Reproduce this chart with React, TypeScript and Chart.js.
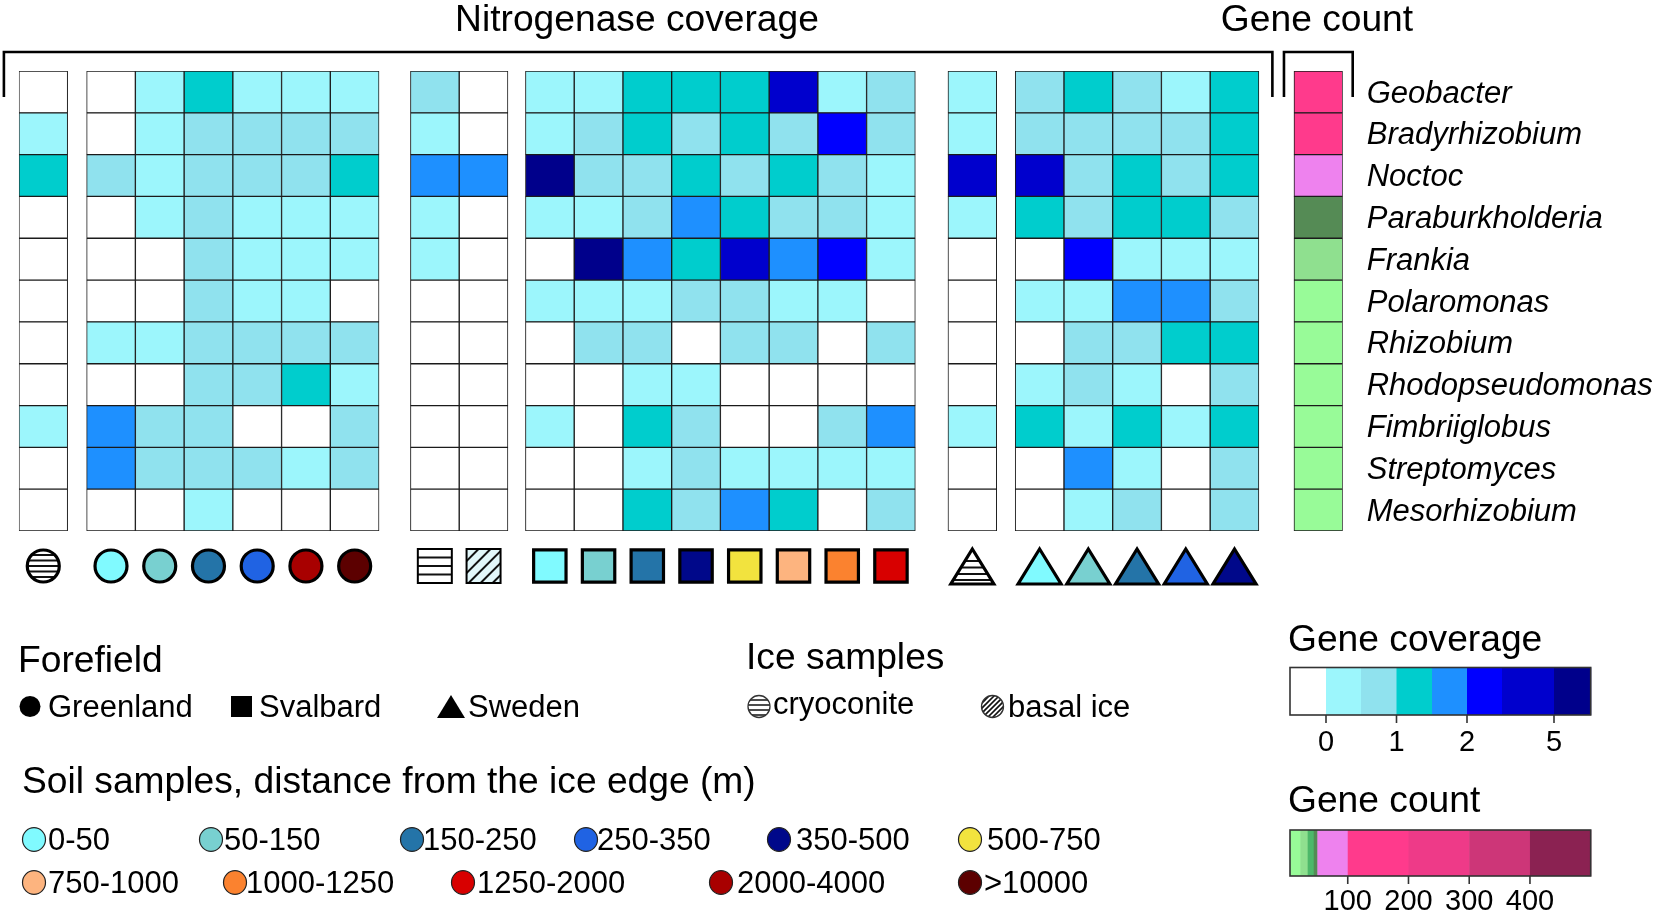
import React, { useEffect, useRef } from 'react';
import { Chart, registerables } from 'chart.js';

Chart.register(...registerables);

const FONT = '"Liberation Sans", Arial, Helvetica, sans-serif';

// ---------- categories ----------
const genera = [
  'Geobacter', 'Bradyrhizobium', 'Noctoc', 'Paraburkholderia', 'Frankia', 'Polaromonas',
  'Rhizobium', 'Rhodopseudomonas', 'Fimbriiglobus', 'Streptomyces', 'Mesorhizobium',
];

// samples (columns), in drawing order
const sampleRegion = [
  'Greenland', 'Greenland', 'Greenland', 'Greenland', 'Greenland', 'Greenland', 'Greenland',
  'Svalbard', 'Svalbard', 'Svalbard', 'Svalbard', 'Svalbard', 'Svalbard', 'Svalbard', 'Svalbard', 'Svalbard', 'Svalbard',
  'Sweden', 'Sweden', 'Sweden', 'Sweden', 'Sweden', 'Sweden',
];
const sampleType = [
  'cryoconite', '0-50', '50-150', '150-250', '250-350', '2000-4000', '>10000',
  'cryoconite', 'basal ice', '0-50', '50-150', '150-250', '350-500', '500-750', '750-1000', '1000-1250', '1250-2000',
  'cryoconite', '0-50', '50-150', '150-250', '250-350', '350-500',
];
const groupSizes = [1, 6, 2, 8, 1, 5];

// ---------- nitrogenase coverage per genus (23 samples) ----------
const geobacterCov =        [0,   0, 0.3, 1.3, 0.3, 0.3, 0.3,  0.8, 0,  0.3, 0.3, 1.3, 1.3, 1.3, 4.2, 0.3, 0.8,  0.3,  0.8, 1.3, 0.8, 0.3, 1.3];
const bradyrhizobiumCov =   [0.3, 0, 0.3, 0.8, 0.8, 0.8, 0.8,  0.3, 0,  0.3, 0.8, 1.3, 0.8, 1.3, 0.8, 2.8, 0.8,  0.3,  0.8, 0.8, 0.8, 0.8, 1.3];
const noctocCov =           [1.3, 0.8, 0.3, 0.8, 0.8, 0.8, 1.3, 1.8, 1.8, 6, 0.8, 0.8, 1.3, 0.8, 1.3, 0.8, 0.3,  4.2,  4.2, 0.8, 1.3, 0.8, 1.3];
const paraburkholderiaCov = [0,   0, 0.3, 0.8, 0.3, 0.3, 0.3,  0.3, 0,  0.3, 0.3, 0.8, 1.8, 1.3, 0.8, 0.8, 0.3,  0.3,  1.3, 0.8, 1.3, 1.3, 0.8];
const frankiaCov =          [0,   0, 0, 0.8, 0.3, 0.3, 0.3,    0.3, 0,  0, 6, 1.8, 1.3, 4.2, 1.8, 2.8, 0.3,      0,    0, 2.8, 0.3, 0.3, 0.3];
const polaromonasCov =      [0,   0, 0, 0.8, 0.3, 0.3, 0,      0, 0,    0.3, 0.3, 0.3, 0.8, 0.8, 0.3, 0.3, 0,    0,    0.3, 0.3, 1.8, 1.8, 0.8];
const rhizobiumCov =        [0,   0.3, 0.3, 0.8, 0.8, 0.8, 0.8, 0, 0,   0, 0.8, 0.8, 0, 0.8, 0.8, 0, 0.8,        0,    0, 0.8, 0.8, 1.3, 1.3];
const rhodopseudomonasCov = [0,   0, 0, 0.8, 0.8, 1.3, 0.3,    0, 0,    0, 0, 0.3, 0.3, 0, 0, 0, 0,              0,    0.3, 0.8, 0.3, 0, 0.8];
const fimbriiglobusCov =    [0.3, 1.8, 0.8, 0.8, 0, 0, 0.8,    0, 0,    0.3, 0, 1.3, 0.8, 0, 0, 0.8, 1.8,        0.3,  1.3, 0.3, 1.3, 0.3, 1.3];
const streptomycesCov =     [0,   1.8, 0.8, 0.8, 0.8, 0.3, 0.8, 0, 0,   0, 0, 0.3, 0.8, 0.3, 0.3, 0.3, 0.3,      0,    0, 1.8, 0.3, 0, 0.8];
const mesorhizobiumCov =    [0,   0, 0, 0.3, 0, 0, 0,          0, 0,    0, 0, 1.3, 0.8, 1.8, 1.3, 0, 0.8,        0,    0, 0.3, 0.8, 0, 0.8];

const coverageRows = [
  geobacterCov, bradyrhizobiumCov, noctocCov, paraburkholderiaCov, frankiaCov, polaromonasCov,
  rhizobiumCov, rhodopseudomonasCov, fimbriiglobusCov, streptomycesCov, mesorhizobiumCov,
];

// gene count per genus
const geneCount = [160, 130, 75, 47, 28, 12, 12, 12, 12, 12, 12];

// ---------- colour scales ----------
const covBreaks = [0, 0.5, 1, 1.5, 2, 3.5, 5];
const covColors = ['#FFFFFF', '#9CF6FC', '#90E2EE', '#00CDCD', '#1E90FF', '#0000FF', '#0000CD', '#00008B'];
const covTickValues = [0, 1, 2, 5];
const covTickLabels = ['0', '1', '2', '5'];

const gcBreaks = [0, 22, 34, 44, 50, 100, 200, 300, 400, 500];
const gcColors = ['#98FB98', '#8FE08F', '#4DB86A', '#558B55', '#EE82EE', '#FF3A8C', '#EE3A88', '#CD3678', '#8B2252'];
const gcTickValues = [100, 200, 300, 400];

const distanceClasses = ['0-50', '50-150', '150-250', '250-350', '350-500', '500-750', '750-1000', '1000-1250', '1250-2000', '2000-4000', '>10000'];
const distanceColors = ['#80FAFF', '#78D0D0', '#2474A8', '#2063E3', '#00088A', '#F2E33E', '#FDB47F', '#FB822F', '#D80000', '#A80000', '#5C0000'];

function coverageColor(v: number) {
  if (!(v > 0)) return covColors[0];
  let idx = 0;
  for (const b of covBreaks) if (v > b) idx++;
  return covColors[Math.min(idx, covColors.length - 1)];
}
function geneCountColor(v: number) {
  let idx = gcBreaks.findIndex((b) => v < b) - 1;
  if (idx < 0) idx = gcColors.length - 1;
  return gcColors[idx];
}

// ---------- layout (units = one cell width) ----------
const groupGaps = [0.39, 0.645, 0.36, 0.67, 0.38];
const geneGap = 0.72;
const W = 1655;
const H = 915;
const AREA_LEFT = 18.9;
const AREA_RIGHT = 1342.7;
const AREA_TOP = 71;
const AREA_BOTTOM = 531;
const TITLE = 37.2;
const ITEM = 31;

function columnStarts() {
  const starts: number[] = [];
  let x = 0;
  groupSizes.forEach((n, g) => {
    for (let i = 0; i < n; i++) starts.push(x + i);
    x += n + (g < groupGaps.length ? groupGaps[g] : 0);
  });
  return { starts, geneStart: starts[starts.length - 1] + 1 + geneGap };
}
const { starts: colStarts, geneStart } = columnStarts();
const totalUnits = geneStart + 1;

function text(ctx: CanvasRenderingContext2D, s: string, x: number, y: number, size: number, align: CanvasTextAlign = 'left', style = '') {
  ctx.font = `${style} ${size}px ${FONT}`;
  ctx.textAlign = align;
  ctx.textBaseline = 'alphabetic';
  ctx.fillStyle = '#000';
  ctx.fillText(s, x, y);
}

function stripesIn(ctx: CanvasRenderingContext2D, path: Path2D, x0: number, x1: number, ys: number[], lw: number) {
  ctx.save();
  ctx.clip(path);
  ctx.strokeStyle = '#111';
  ctx.lineWidth = lw;
  ys.forEach((y) => {
    ctx.beginPath();
    ctx.moveTo(x0, y);
    ctx.lineTo(x1, y);
    ctx.stroke();
  });
  ctx.restore();
}
function hatchIn(ctx: CanvasRenderingContext2D, path: Path2D, cx: number, cy: number, r: number, step: number, lw: number) {
  ctx.save();
  ctx.clip(path);
  ctx.strokeStyle = '#111';
  ctx.lineWidth = lw;
  for (let d = -2 * r; d <= 2 * r; d += step) {
    ctx.beginPath();
    ctx.moveTo(cx + d - r, cy + r);
    ctx.lineTo(cx + d + r, cy - r);
    ctx.stroke();
  }
  ctx.restore();
}

function drawSampleSymbol(ctx: CanvasRenderingContext2D, region: string, type: string, x: number, y: number) {
  const path = new Path2D();
  let lw = 3.2;
  if (region === 'Greenland') {
    path.arc(x, y, 16, 0, Math.PI * 2);
  } else if (region === 'Svalbard') {
    if (type === 'cryoconite' || type === 'basal ice') {
      path.rect(x - 17, y - 17, 34, 34);
      lw = 2;
    } else {
      path.rect(x - 16.2, y - 16.2, 32.4, 32.4);
    }
  } else {
    path.moveTo(x, y - 17);
    path.lineTo(x + 21.5, y + 18);
    path.lineTo(x - 21.5, y + 18);
    path.closePath();
  }
  ctx.save();
  ctx.lineJoin = 'miter';
  if (type === 'cryoconite') {
    ctx.fillStyle = '#fff';
    ctx.fill(path);
    const ys = region === 'Svalbard' ? [y - 8.5, y, y + 8.5] : region === 'Sweden' ? [y - 5, y + 1.5, y + 8, y + 14] : [y - 11, y - 5.5, y, y + 5.5, y + 11];
    stripesIn(ctx, path, x - 25, x + 25, ys, 2);
  } else if (type === 'basal ice') {
    ctx.fillStyle = '#E2F7FA';
    ctx.fill(path);
    hatchIn(ctx, path, x, y, 17, 12, 2);
  } else {
    ctx.fillStyle = distanceColors[distanceClasses.indexOf(type)];
    ctx.fill(path);
  }
  ctx.strokeStyle = '#000';
  ctx.lineWidth = lw;
  ctx.stroke(path);
  ctx.restore();
}

const soilLegendPos = [
  { cx: 34, tx: 48, y: 850 }, { cx: 211, tx: 224, y: 850 }, { cx: 412, tx: 423, y: 850 },
  { cx: 586, tx: 597, y: 850 }, { cx: 779, tx: 796, y: 850 }, { cx: 970, tx: 987, y: 850 },
  { cx: 34, tx: 48, y: 893 }, { cx: 235, tx: 246, y: 893 }, { cx: 463, tx: 477, y: 893 },
  { cx: 721, tx: 737, y: 893 }, { cx: 970, tx: 984, y: 893 },
];
const covLegendEdges = [1290, 1326, 1361, 1396.5, 1432, 1467, 1502, 1554, 1590.7];

const overlayPlugin = {
  id: 'overlay',
  afterDraw(chart: any) {
    const ctx: CanvasRenderingContext2D = chart.ctx;
    const xs = chart.scales.x;
    const area = chart.chartArea;
    ctx.save();

    // titles
    text(ctx, 'Nitrogenase coverage', 637, 31, TITLE, 'center');
    text(ctx, 'Gene count', 1317, 31, TITLE, 'center');

    // brackets
    const bTop = 52;
    const bBot = 97;
    ctx.strokeStyle = '#000';
    ctx.lineWidth = 2.6;
    ctx.lineCap = 'butt';
    const b1L = xs.getPixelForValue(0) - 15;
    const lastCol = colStarts[colStarts.length - 1] + 1;
    const b1R = xs.getPixelForValue(lastCol) + 13.5;
    ctx.beginPath();
    ctx.moveTo(b1L, bBot); ctx.lineTo(b1L, bTop); ctx.lineTo(b1R, bTop); ctx.lineTo(b1R, bBot);
    ctx.stroke();
    const b2L = xs.getPixelForValue(geneStart) - 10;
    const b2R = xs.getPixelForValue(geneStart + 1) + 10;
    ctx.beginPath();
    ctx.moveTo(b2L, bBot); ctx.lineTo(b2L, bTop); ctx.lineTo(b2R, bTop); ctx.lineTo(b2R, bBot);
    ctx.stroke();

    // sample symbols
    const sy = area.bottom + 35;
    colStarts.forEach((s, i) => {
      drawSampleSymbol(ctx, sampleRegion[i], sampleType[i], xs.getPixelForValue(s + 0.5), sy);
    });

    // Forefield legend
    text(ctx, 'Forefield', 18, 672, TITLE);
    ctx.fillStyle = '#000';
    ctx.beginPath(); ctx.arc(30, 706.5, 10.5, 0, Math.PI * 2); ctx.fill();
    text(ctx, 'Greenland', 48, 717, ITEM);
    ctx.fillStyle = '#000';
    ctx.fillRect(231, 696, 21, 21);
    text(ctx, 'Svalbard', 259, 717, ITEM);
    ctx.fillStyle = '#000';
    ctx.beginPath(); ctx.moveTo(451, 695); ctx.lineTo(465, 718); ctx.lineTo(437, 718); ctx.closePath(); ctx.fill();
    text(ctx, 'Sweden', 468, 717, ITEM);

    // Ice samples legend
    text(ctx, 'Ice samples', 746, 669, TITLE);
    const cryo = new Path2D(); cryo.arc(759, 706.5, 11, 0, Math.PI * 2);
    ctx.fillStyle = '#fff'; ctx.fill(cryo);
    stripesIn(ctx, cryo, 745, 773, [700, 705, 710, 715], 1.3);
    ctx.strokeStyle = '#333'; ctx.lineWidth = 1.3; ctx.stroke(cryo);
    text(ctx, 'cryoconite', 773, 714, ITEM);
    const basal = new Path2D(); basal.arc(992.5, 706.5, 11, 0, Math.PI * 2);
    ctx.fillStyle = '#fff'; ctx.fill(basal);
    hatchIn(ctx, basal, 992.5, 706.5, 12, 5, 1.6);
    ctx.strokeStyle = '#333'; ctx.lineWidth = 1.3; ctx.stroke(basal);
    text(ctx, 'basal ice', 1008, 717, ITEM);

    // Soil samples legend
    text(ctx, 'Soil samples, distance from the ice edge (m)', 22, 793, TITLE);
    distanceClasses.forEach((d, i) => {
      const p = soilLegendPos[i];
      ctx.beginPath();
      ctx.ellipse(p.cx, p.y - 10.5, 11.5, 11.8, 0, 0, Math.PI * 2);
      ctx.fillStyle = distanceColors[i];
      ctx.fill();
      ctx.strokeStyle = '#222';
      ctx.lineWidth = 1.2;
      ctx.stroke();
      text(ctx, d, p.tx, p.y, ITEM);
    });

    // Gene coverage colour bar
    text(ctx, 'Gene coverage', 1288, 651, TITLE);
    const cTop = 667.5, cBot = 715;
    covColors.forEach((c, i) => {
      ctx.fillStyle = c;
      ctx.fillRect(covLegendEdges[i], cTop, covLegendEdges[i + 1] - covLegendEdges[i] + 0.5, cBot - cTop);
    });
    ctx.strokeStyle = '#333'; ctx.lineWidth = 1.6;
    ctx.strokeRect(covLegendEdges[0], cTop, covLegendEdges[covLegendEdges.length - 1] - covLegendEdges[0], cBot - cTop);
    covTickValues.forEach((v, i) => {
      const edge = covLegendEdges[covBreaks.indexOf(v) + 1];
      ctx.beginPath(); ctx.moveTo(edge, cBot); ctx.lineTo(edge, cBot + 8); ctx.stroke();
      text(ctx, covTickLabels[i], edge, 751, 29, 'center');
    });

    // Gene count colour bar
    text(ctx, 'Gene count', 1288, 812, TITLE);
    const gL = 1287, gR = 1590.7;
    const gpx = (v: number) => gL + (v / gcBreaks[gcBreaks.length - 1]) * (gR - gL);
    const gTop = 830, gBot = 876;
    gcColors.forEach((c, i) => {
      const a = Math.max(1290, gpx(gcBreaks[i]));
      const b = gpx(gcBreaks[i + 1]);
      ctx.fillStyle = c;
      ctx.fillRect(a, gTop, b - a + 0.5, gBot - gTop);
    });
    ctx.strokeStyle = '#333'; ctx.lineWidth = 1.6;
    ctx.strokeRect(1290, gTop, gR - 1290, gBot - gTop);
    gcTickValues.forEach((v) => {
      const x = gpx(v);
      ctx.beginPath(); ctx.moveTo(x, gBot); ctx.lineTo(x, gBot + 8); ctx.stroke();
      text(ctx, String(v), x, 910, 29, 'center');
    });

    ctx.restore();
  },
};

export default function App() {
  const ref = useRef<HTMLCanvasElement | null>(null);
  useEffect(() => {
    if (!ref.current) return;
    const datasets: any[] = colStarts.map((s, c) => ({
      label: `${sampleRegion[c]} ${sampleType[c]}`,
      data: genera.map(() => [s, s + 1]),
      backgroundColor: coverageRows.map((row) => coverageColor(row[c])),
      borderColor: '#1b1b1b',
      borderWidth: 1,
      borderSkipped: false,
      grouped: false,
      barPercentage: 1,
      categoryPercentage: 1,
    }));
    datasets.push({
      label: 'Gene count',
      data: genera.map(() => [geneStart, geneStart + 1]),
      backgroundColor: geneCount.map((v) => geneCountColor(v)),
      borderColor: '#1b1b1b',
      borderWidth: 1,
      borderSkipped: false,
      grouped: false,
      barPercentage: 1,
      categoryPercentage: 1,
    });
    const chart = new Chart(ref.current, {
      type: 'bar',
      data: { labels: genera, datasets },
      options: {
        indexAxis: 'y',
        responsive: false,
        animation: false,
        events: [],
        layout: { padding: { left: AREA_LEFT, top: AREA_TOP, bottom: H - AREA_BOTTOM, right: 0 } },
        scales: {
          x: { type: 'linear', min: 0, max: totalUnits, display: false },
          y: {
            type: 'category',
            position: 'right',
            grid: { display: false, drawTicks: false },
            border: { display: false },
            ticks: {
              autoSkip: false,
              padding: 24,
              labelOffset: 2,
              color: '#000',
              font: { family: FONT, size: 31, style: 'italic' },
            },
            afterFit: (scale: any) => {
              scale.width = W - AREA_RIGHT;
            },
          },
        },
        plugins: { legend: { display: false }, tooltip: { enabled: false }, title: { display: false } },
      } as any,
      plugins: [overlayPlugin],
    });
    return () => chart.destroy();
  }, []);
  return (
    <div style={{ position: 'fixed', left: 0, top: 0, width: W, height: H, background: '#fff' }}>
      <canvas ref={ref} width={W} height={H} style={{ display: 'block', width: W, height: H }} />
    </div>
  );
}
